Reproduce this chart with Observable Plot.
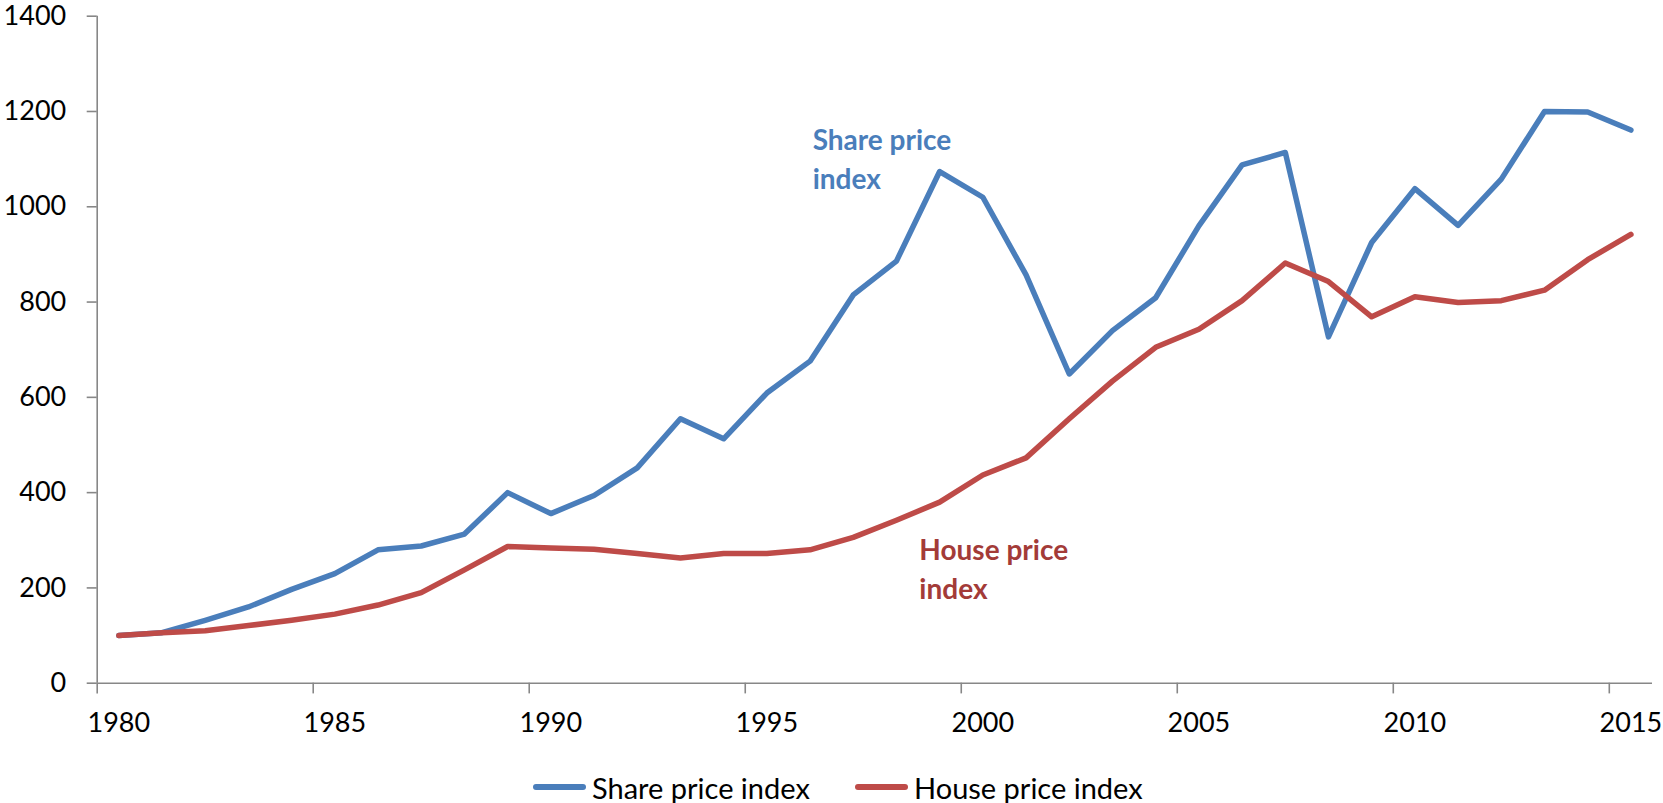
<!DOCTYPE html>
<html>
<head>
<meta charset="utf-8">
<script src="https://cdn.jsdelivr.net/npm/d3@7"></script>
<script src="https://cdn.jsdelivr.net/npm/@observablehq/plot@0.6"></script>
<style>
  html, body { margin: 0; padding: 0; background: #fff; }
  #wrap { width: 1663px; position: relative; font-family: Lato, "Open Sans", sans-serif; }
  #legend { position: relative; height: 51px; }
  .item { position: absolute; top: 0; height: 70px; display: flex; align-items: center; font-size: 29px; color: #000; }
  .swatch { display: inline-block; width: 53px; height: 6px; border-radius: 3px; margin-right: 6px; }
</style>
</head>
<body>
<div id="wrap">
  <div id="chart"></div>
  <div id="legend"></div>
</div>
<script>
const years = [1980,1981,1982,1983,1984,1985,1986,1987,1988,1989,
               1990,1991,1992,1993,1994,1995,1996,1997,1998,1999,
               2000,2001,2002,2003,2004,2005,2006,2007,2008,2009,
               2010,2011,2012,2013,2014,2015];
const sharePrice = [100,106,132,160,197,230,280,288,313,400,
                    356,394,452,555,513,609,676,815,886,1074,
                    1020,857,649,740,809,960,1088,1114,727,925,
                    1038,961,1058,1200,1199,1161];
const housePrice = [100,106,110,121,132,145,164,190,238,287,
                    284,281,272,263,272,272,280,306,342,380,
                    437,473,555,634,705,743,803,882,843,769,
                    811,799,803,825,889,942];
const seriesNames = ["Share price index", "House price index"];
const labelYears = [1980,1985,1990,1995,2000,2005,2010,2015];
const boundaryTicks = [1979.5,1984.5,1989.5,1994.5,1999.5,2004.5,2009.5,2014.5];
const yTicks = [0,200,400,600,800,1000,1200,1400];
const annotations = [
  {year: 1996.06, value: 1176, text: "Share price\nindex", series: 0},
  {year: 1998.53, value: 316, text: "House price\nindex", series: 1}
];

const lineColors = ["#4A7EBB", "#BE4B48"];
const textColors = ["#4A7EBB", "#A33B38"];
const axisColor = "#878787";

const shareRows = years.map((y, i) => ({year: y, value: sharePrice[i]}));
const houseRows = years.map((y, i) => ({year: y, value: housePrice[i]}));

const plot = Plot.plot({
  width: 1663,
  height: 752,
  marginLeft: 96.7,
  marginRight: 11,
  marginTop: 15.7,
  marginBottom: 69.3,
  style: {fontFamily: "Lato, 'Open Sans', sans-serif", fontSize: "27px", background: "#fff", overflow: "visible"},
  x: {domain: [1979.5, 2015.5]},
  y: {domain: [0, 1400]},
  marks: [
    Plot.ruleY([0], {stroke: axisColor, strokeWidth: 1.6}),
    Plot.ruleX([1979.5], {stroke: axisColor, strokeWidth: 1.6}),
    Plot.axisY({ticks: yTicks, tickSize: 10, tickPadding: 21, tickFormat: d => String(d), stroke: axisColor, strokeWidth: 1.6, label: null, fill: "#000", fontSize: 27}),
    Plot.axisX({ticks: boundaryTicks, tickSize: 10.7, tickFormat: () => "", stroke: axisColor, strokeWidth: 1.6, label: null}),
    Plot.axisX({ticks: labelYears, tickSize: 0, tickPadding: 30, tickFormat: d => String(d), label: null, fill: "#000", fontSize: 27}),
    Plot.line(shareRows, {x: "year", y: "value", stroke: lineColors[0], strokeWidth: 5.5, strokeLinejoin: "round", strokeLinecap: "round"}),
    Plot.line(houseRows, {x: "year", y: "value", stroke: lineColors[1], strokeWidth: 5.5, strokeLinejoin: "round", strokeLinecap: "round"}),
    Plot.text(annotations, {x: "year", y: "value", text: "text", fill: d => textColors[d.series], textAnchor: "start", lineAnchor: "top", lineHeight: 1.38, fontSize: 28, fontWeight: "bold"})
  ]
});
document.getElementById("chart").appendChild(plot);

const legend = document.getElementById("legend");
const legendLeft = [533, 855];
seriesNames.forEach((name, i) => {
  const item = document.createElement("div");
  item.className = "item";
  item.style.left = legendLeft[i] + "px";
  item.style.top = "0px";
  const sw = document.createElement("span");
  sw.className = "swatch";
  sw.style.background = lineColors[i];
  item.appendChild(sw);
  item.appendChild(document.createTextNode(name));
  legend.appendChild(item);
});
</script>
</body>
</html>
